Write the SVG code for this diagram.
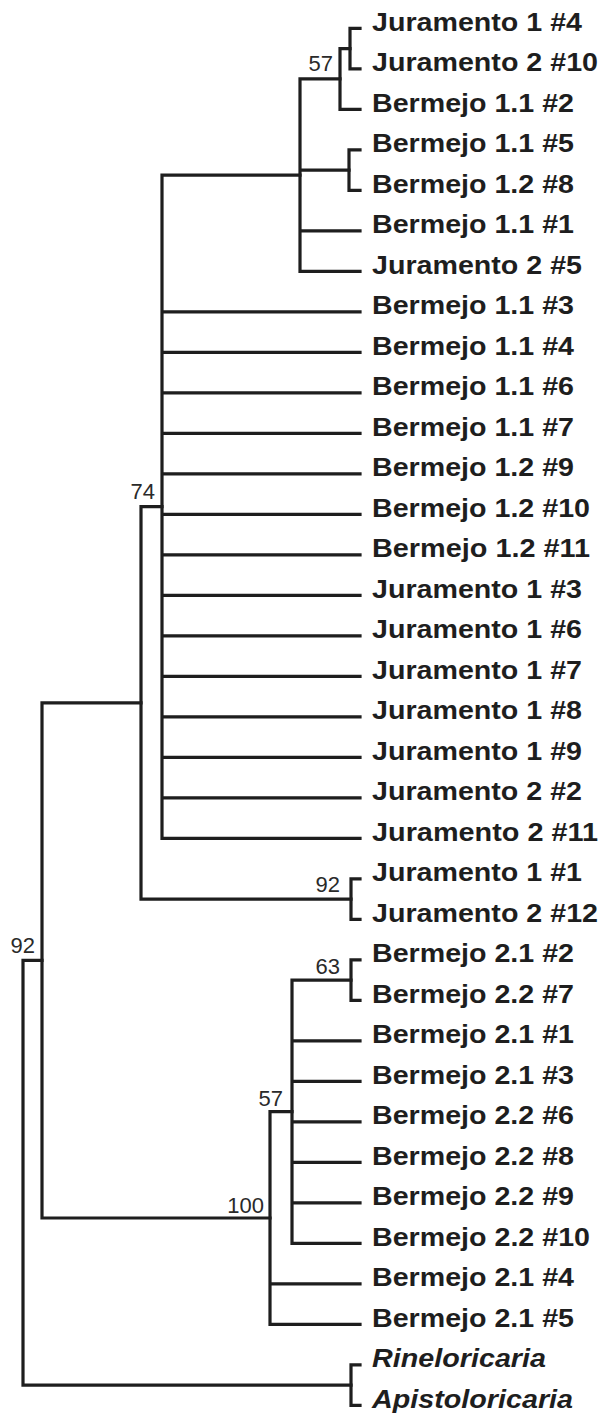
<svg xmlns="http://www.w3.org/2000/svg" width="604" height="1416" viewBox="0 0 604 1416">
<style>
.e{fill:none;stroke:#1e1e1e;stroke-width:3.2;stroke-linecap:square;stroke-linejoin:miter}
.l{font-family:"Liberation Sans",Arial,sans-serif;font-weight:bold;font-size:25px;fill:#1e1e1e}
.i{font-style:italic}
.s{font-family:"Liberation Sans",Arial,sans-serif;font-size:22px;fill:#2a2a2a;text-anchor:end}
</style>
<rect width="604" height="1416" fill="#fff"/>
<g id="connectors">
<path class="e" d="M350 28.3H360M350 68.8H360M350 28.3V68.8"/>
<path class="e" d="M340 48.55V109.3M340 48.55H350M340 109.3H360"/>
<path class="e" d="M349 149.8V190.3M349 149.8H360M349 190.3H360"/>
<path class="e" d="M300 78.9V271.3M300 78.9H340M300 170.05H349M300 230.8H360M300 271.3H360"/>
<path class="e" d="M162 175.1V838.3M162 175.1H300M162 311.8H360M162 352.3H360M162 392.8H360M162 433.3H360M162 473.8H360M162 514.3H360M162 554.8H360M162 595.3H360M162 635.8H360M162 676.3H360M162 716.8H360M162 757.3H360M162 797.8H360M162 838.3H360"/>
<path class="e" d="M351 878.8V919.3M351 878.8H360M351 919.3H360"/>
<path class="e" d="M141 506.7V899.05M141 506.7H162M141 899.05H351"/>
<path class="e" d="M351 959.8V1000.3M351 959.8H360M351 1000.3H360"/>
<path class="e" d="M292 980.05V1243.3M292 980.05H351M292 1040.8H360M292 1081.3H360M292 1121.8H360M292 1162.3H360M292 1202.8H360M292 1243.3H360"/>
<path class="e" d="M270 1111.7V1324.3M270 1111.7H292M270 1283.8H360M270 1324.3H360"/>
<path class="e" d="M42 702.9V1218M42 702.9H141M42 1218H270"/>
<path class="e" d="M351 1364.8V1405.3M351 1364.8H360M351 1405.3H360"/>
<path class="e" d="M23 960.45V1385.05M23 960.45H42M23 1385.05H351"/>
</g>
<g id="support">
<g id="n57a"><text class="s" x="333" y="71">57</text></g>
<g id="n74"><text class="s" x="155" y="499">74</text></g>
<g id="n92a"><text class="s" x="340" y="892">92</text></g>
<g id="n92root"><text class="s" x="35" y="953">92</text></g>
<g id="n63"><text class="s" x="340" y="974">63</text></g>
<g id="n57b"><text class="s" x="283" y="1106">57</text></g>
<g id="n100"><text class="s" x="264" y="1213">100</text></g>
</g>
<g id="leaves" class="l">
<g id="t0"><text x="372" y="30.8" textLength="210" lengthAdjust="spacingAndGlyphs">Juramento 1 #4</text></g>
<g id="t1"><text x="372" y="71.3" textLength="226" lengthAdjust="spacingAndGlyphs">Juramento 2 #10</text></g>
<g id="t2"><text x="372" y="111.8" textLength="202" lengthAdjust="spacingAndGlyphs">Bermejo 1.1 #2</text></g>
<g id="t3"><text x="372" y="152.3" textLength="202" lengthAdjust="spacingAndGlyphs">Bermejo 1.1 #5</text></g>
<g id="t4"><text x="372" y="192.8" textLength="202" lengthAdjust="spacingAndGlyphs">Bermejo 1.2 #8</text></g>
<g id="t5"><text x="372" y="233.3" textLength="202" lengthAdjust="spacingAndGlyphs">Bermejo 1.1 #1</text></g>
<g id="t6"><text x="372" y="273.8" textLength="210" lengthAdjust="spacingAndGlyphs">Juramento 2 #5</text></g>
<g id="t7"><text x="372" y="314.3" textLength="202" lengthAdjust="spacingAndGlyphs">Bermejo 1.1 #3</text></g>
<g id="t8"><text x="372" y="354.8" textLength="202" lengthAdjust="spacingAndGlyphs">Bermejo 1.1 #4</text></g>
<g id="t9"><text x="372" y="395.3" textLength="202" lengthAdjust="spacingAndGlyphs">Bermejo 1.1 #6</text></g>
<g id="t10"><text x="372" y="435.8" textLength="202" lengthAdjust="spacingAndGlyphs">Bermejo 1.1 #7</text></g>
<g id="t11"><text x="372" y="476.3" textLength="202" lengthAdjust="spacingAndGlyphs">Bermejo 1.2 #9</text></g>
<g id="t12"><text x="372" y="516.8" textLength="218" lengthAdjust="spacingAndGlyphs">Bermejo 1.2 #10</text></g>
<g id="t13"><text x="372" y="557.3" textLength="218" lengthAdjust="spacingAndGlyphs">Bermejo 1.2 #11</text></g>
<g id="t14"><text x="372" y="597.8" textLength="210" lengthAdjust="spacingAndGlyphs">Juramento 1 #3</text></g>
<g id="t15"><text x="372" y="638.3" textLength="210" lengthAdjust="spacingAndGlyphs">Juramento 1 #6</text></g>
<g id="t16"><text x="372" y="678.8" textLength="210" lengthAdjust="spacingAndGlyphs">Juramento 1 #7</text></g>
<g id="t17"><text x="372" y="719.3" textLength="210" lengthAdjust="spacingAndGlyphs">Juramento 1 #8</text></g>
<g id="t18"><text x="372" y="759.8" textLength="210" lengthAdjust="spacingAndGlyphs">Juramento 1 #9</text></g>
<g id="t19"><text x="372" y="800.3" textLength="210" lengthAdjust="spacingAndGlyphs">Juramento 2 #2</text></g>
<g id="t20"><text x="372" y="840.8" textLength="226" lengthAdjust="spacingAndGlyphs">Juramento 2 #11</text></g>
<g id="t21"><text x="372" y="881.3" textLength="210" lengthAdjust="spacingAndGlyphs">Juramento 1 #1</text></g>
<g id="t22"><text x="372" y="921.8" textLength="226" lengthAdjust="spacingAndGlyphs">Juramento 2 #12</text></g>
<g id="t23"><text x="372" y="962.3" textLength="202" lengthAdjust="spacingAndGlyphs">Bermejo 2.1 #2</text></g>
<g id="t24"><text x="372" y="1002.8" textLength="202" lengthAdjust="spacingAndGlyphs">Bermejo 2.2 #7</text></g>
<g id="t25"><text x="372" y="1043.3" textLength="202" lengthAdjust="spacingAndGlyphs">Bermejo 2.1 #1</text></g>
<g id="t26"><text x="372" y="1083.8" textLength="202" lengthAdjust="spacingAndGlyphs">Bermejo 2.1 #3</text></g>
<g id="t27"><text x="372" y="1124.3" textLength="202" lengthAdjust="spacingAndGlyphs">Bermejo 2.2 #6</text></g>
<g id="t28"><text x="372" y="1164.8" textLength="202" lengthAdjust="spacingAndGlyphs">Bermejo 2.2 #8</text></g>
<g id="t29"><text x="372" y="1205.3" textLength="202" lengthAdjust="spacingAndGlyphs">Bermejo 2.2 #9</text></g>
<g id="t30"><text x="372" y="1245.8" textLength="218" lengthAdjust="spacingAndGlyphs">Bermejo 2.2 #10</text></g>
<g id="t31"><text x="372" y="1286.3" textLength="202" lengthAdjust="spacingAndGlyphs">Bermejo 2.1 #4</text></g>
<g id="t32"><text x="372" y="1326.8" textLength="202" lengthAdjust="spacingAndGlyphs">Bermejo 2.1 #5</text></g>
<g id="t33"><text class="i" x="372" y="1367.3" textLength="174" lengthAdjust="spacingAndGlyphs">Rineloricaria</text></g>
<g id="t34"><text class="i" x="372" y="1407.8" textLength="201" lengthAdjust="spacingAndGlyphs">Apistoloricaria</text></g>
</g>
</svg>
